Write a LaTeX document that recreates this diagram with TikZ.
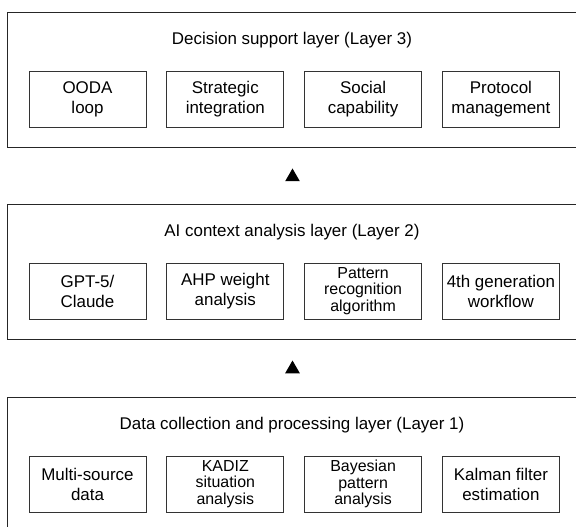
\documentclass[tikz,border=0pt]{standalone}
\usepackage{fontspec}
\setmainfont{Liberation Sans}
\usetikzlibrary{positioning,shapes.geometric}

\begin{document}
\begin{tikzpicture}[
    x=1bp, y=-1bp,
    node distance=20bp,
    layer/.style={rectangle, draw=black!85, line width=0.9bp, anchor=north west, minimum width=575bp, minimum height=135bp, inner sep=0pt},
    title/.style={font=\fontsize{17}{20}\selectfont},
    box/.style={rectangle, draw=black!80, line width=0.8bp, align=center, minimum width=117bp, minimum height=56bp, inner sep=0pt, font=\fontsize{17}{20}\selectfont},
    tight/.style={box, font=\fontsize{16}{16.5}\selectfont},
    tri/.style={regular polygon, regular polygon sides=3, fill=black, minimum size=17bp, inner sep=0pt}
]
\useasboundingbox (0,0) rectangle (576,527);
\clip (0,0) rectangle (576,527);

% Layer 3
\node[layer] (l3) at (7,12) {};
\node[title] (t3) at (292,40) {Decision support layer (Layer 3)};
\node[box] (ooda) at (87.5,99) {OODA\\loop};
\node[box, right=of ooda] (strat) {Strategic\\integration};
\node[box, right=of strat] (social) {Social\\capability};
\node[box, right=of social] (proto) {Protocol\\management};

\node[tri] (up2) at (292.5,177) {};

% Layer 2
\node[layer] (l2) at (7,204) {};
\node[title] (t2) at (292,232) {AI context analysis layer (Layer 2)};
\node[box] (gpt) at (87.5,291) {GPT-5/\\Claude};
\node[box, right=of gpt] (ahp) {AHP weight\\analysis};
\node[tight, right=of ahp] (patt) {Pattern\\recognition\\algorithm};
\node[box, right=of patt] (wf) {4th generation\\workflow};

\node[tri] (up1) at (292.5,369) {};

% Layer 1
\node[layer] (l1) at (7,397) {};
\node[title] (t1) at (292,425) {Data collection and processing layer (Layer 1)};
\node[box] (multi) at (87.5,484) {Multi-source\\data};
\node[tight, right=of multi] (kadiz) {KADIZ\\situation\\analysis};
\node[tight, right=of kadiz] (bayes) {Bayesian\\pattern\\analysis};
\node[box, right=of bayes] (kalman) {Kalman filter\\estimation};
\end{tikzpicture}
\end{document}
